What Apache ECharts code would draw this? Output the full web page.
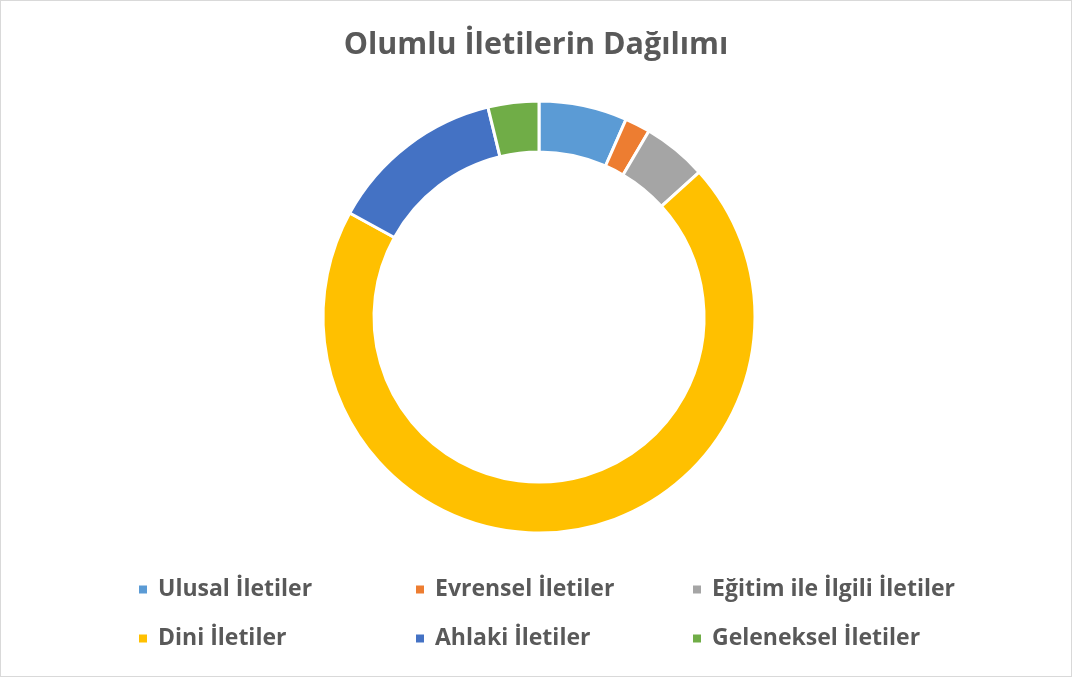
<!DOCTYPE html>
<html>
<head>
<meta charset="utf-8">
<script src="https://cdn.jsdelivr.net/npm/echarts@6/dist/echarts.min.js"></script>
<style>
  html, body { margin: 0; padding: 0; background: #fff; }
  #box { position: absolute; left: 0; top: 0; width: 1070px; height: 675px; border: 1px solid #d9d9d9; }
  #chart { width: 1070px; height: 675px; }
</style>
</head>
<body>
<div id="box"><div id="chart"></div></div>
<script>
// categories and shares (percent, read from the ring)
var categories = ['Ulusal İletiler', 'Evrensel İletiler', 'Eğitim ile İlgili İletiler',
                  'Dini İletiler', 'Ahlaki İletiler', 'Geleneksel İletiler'];
var values = [6.6, 1.9, 4.8, 69.7, 13.2, 3.8];
var colors = ['#5B9BD5', '#ED7D31', '#A5A5A5', '#FFC000', '#4472C4', '#70AD47'];

var chart = echarts.init(document.getElementById('chart'));
chart.setOption({
  animation: false,
  color: colors,
  title: {
    text: 'Olumlu İletilerin Dağılımı',
    left: 'center',
    top: 24,
    textStyle: { fontFamily: 'Open Sans', fontWeight: 'bold', fontSize: 30.5, color: '#595959' }
  },
  legend: {
    left: 136,
    top: 572,
    width: 860,
    padding: 0,
    itemWidth: 10,
    itemHeight: 10,
    itemGap: 16,
    icon: 'rect',
    textStyle: {
      fontFamily: 'Open Sans', fontWeight: 'bold', fontSize: 23, color: '#595959',
      width: 240, lineHeight: 33, padding: [0, 0, 0, 5]
    }
  },
  series: [{
    type: 'pie',
    center: [538, 316],
    radius: [165, 216],
    startAngle: 90,
    clockwise: true,
    label: { show: false },
    labelLine: { show: false },
    itemStyle: { borderColor: '#fff', borderWidth: 3 },
    data: categories.map(function (c, i) { return { name: c, value: values[i] }; })
  }]
});
</script>
</body>
</html>
